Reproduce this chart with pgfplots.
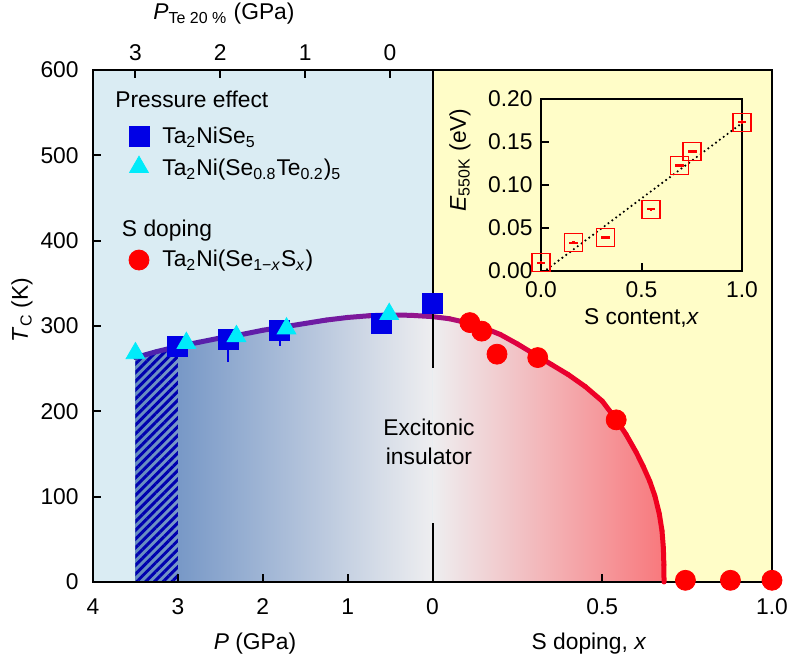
\documentclass[border=0pt]{standalone}
\usepackage{fontspec}
\setmainfont{Liberation Sans}
\usepackage{pgfplots}
\pgfplotsset{compat=1.18}
\usetikzlibrary{patterns.meta}
\newcommand{\fsz}{\fontsize{11.4bp}{14.5bp}\selectfont}
\definecolor{bgblue}{RGB}{218,236,243}
\definecolor{bgyellow}{RGB}{255,253,200}
\definecolor{gL}{RGB}{100,138,192}
\definecolor{gLm}{RGB}{150,175,210}
\definecolor{gM}{RGB}{238,238,240}
\definecolor{gRm}{RGB}{245,195,198}
\definecolor{gR}{RGB}{248,120,124}
\definecolor{hatchc}{RGB}{0,0,175}
\definecolor{sqblue}{RGB}{0,0,230}
\definecolor{tricyan}{RGB}{0,235,250}
\definecolor{cred}{RGB}{255,0,0}
\pgfplotsset{colormap={curvemap}{rgb255(0cm)=(75,35,175) rgb255(2cm)=(105,28,165) rgb255(3.5cm)=(150,20,140) rgb255(4.3cm)=(220,0,70) rgb255(5.3cm)=(238,0,40) rgb255(6.228cm)=(240,0,30)}}
% main x coordinate: pressure side x = -P (GPa); S-doping side x = 4*S
\begin{document}
\begin{tikzpicture}
\begin{axis}[
  at={(0,0)}, anchor=south west,
  scale only axis, width=339.5bp, height=256bp,
  xmin=-4, xmax=4, ymin=0, ymax=600,
  set layers, clip=false,
  axis line style={line width=1bp},
  every tick/.style={black, line width=1bp},
  major tick length=4bp, tick align=inside,
  xtick pos=bottom, ytick pos=left,
  xtick={-4,-3,-2,-1,0,2,4}, xticklabels={4,3,2,1,0,0.5,1.0},
  ytick={0,100,200,300,400,500,600},
  tick label style={font=\fsz},
  xticklabel style={yshift=-5bp},
  yticklabel style={xshift=-3.7bp},
  /pgf/number format/assume math mode=true,
]
% backgrounds
\addplot[on layer=axis background, draw=none, fill=bgblue, forget plot] coordinates {(-4,0) (-4,600) (0,600) (0,0)} -- cycle;
\addplot[on layer=axis background, draw=none, fill=bgyellow, forget plot] coordinates {(0,0) (0,600) (4,600) (4,0)} -- cycle;
% gradient fills under the phase boundary
\addplot[on layer=axis background, draw=none, left color=gL, middle color=gLm, right color=gM, forget plot] coordinates {
(-3.5,263) (-3.25,270) (-3.0,276) (-2.75,281) (-2.5,286) (-2.25,290) (-2.0,295) (-1.75,299) (-1.5,303) (-1.25,307) (-1.0,310) (-0.75,312) (-0.5,313) (-0.25,312.5) (0,311)} \closedcycle;
\addplot[on layer=axis background, draw=none, left color=gM, middle color=gRm, right color=gR, forget plot] coordinates {
(0,311) (0.2,308.5) (0.4,304) (0.6,298) (0.8,290) (1.0,279) (1.2,267) (1.4,255) (1.6,243) (1.8,229) (2.0,212) (2.16,191) (2.28,173) (2.4,152) (2.48,136) (2.56,118) (2.62,101) (2.672,80) (2.704,60) (2.72,40) (2.726,20) (2.728,0)} \closedcycle;
\addplot[on layer=axis background, draw=none, pattern={Lines[angle=45, distance=3.1bp, line width=1.5bp]}, pattern color=hatchc, forget plot] coordinates {(-3.5,263) (-3.25,270) (-3.0,276)} \closedcycle;
% phase boundary
\addplot[mesh, colormap name=curvemap, point meta=x, point meta min=-3.5, point meta max=2.728, line width=2.5bp, line cap=round, line join=round, forget plot] coordinates {
(-3.5,263) (-3.25,270) (-3.0,276) (-2.75,281) (-2.5,286) (-2.25,290) (-2.0,295) (-1.75,299) (-1.5,303) (-1.25,307) (-1.0,310) (-0.75,312) (-0.5,313) (-0.25,312.5) (0,311) (0.2,308.5) (0.4,304) (0.6,298) (0.8,290) (1.0,279) (1.2,267) (1.4,255) (1.6,243) (1.8,229) (2.0,212) (2.16,191) (2.28,173) (2.4,152) (2.48,136) (2.56,118) (2.62,101) (2.672,80) (2.704,60) (2.72,40) (2.726,20) (2.728,0)};
% Ta2NiSe5
\addplot[only marks, mark=square*, mark size=5bp, color=sqblue, forget plot,
  error bars/.cd, y dir=minus, y explicit, error bar style={sqblue, line width=1bp}, error mark options={sqblue, line width=1bp, mark size=4bp}]
  coordinates {(-3.0,276) -= (0,0) (-2.41,284) -= (0,17) (-1.80,295) -= (0,9) (-0.6,303) -= (0,0) (0.0,326) -= (0,0)};
% Ta2Ni(Se0.8Te0.2)5
\addplot[only marks, mark=triangle*, mark size=5.4bp, color=tricyan, forget plot]
  coordinates {(-3.5,268) (-2.9,280) (-2.31,288) (-1.72,297) (-0.51,314)};
% S doping
\addplot[only marks, mark=*, mark size=5bp, color=cred, forget plot]
  coordinates {(0.44,304) (0.58,294) (0.76,267) (1.24,263) (2.164,190) (2.98,2) (3.51,2) (4.0,2)};
% divider
\draw[line width=1bp] (axis cs:0,600) -- (axis cs:0,251);
\draw[line width=1bp] (axis cs:0,69) -- (axis cs:0,0);
% legend symbols
\addplot[only marks, mark=square*, mark size=5bp, color=sqblue, forget plot] coordinates {(-3.458,522.7)};
\addplot[only marks, mark=triangle*, mark size=5.4bp, color=tricyan, forget plot] coordinates {(-3.458,486.3)};
\addplot[only marks, mark=*, mark size=5bp, color=cred, forget plot] coordinates {(-3.458,377.3)};
\end{axis}
% top axis (P for Te 20 %)
\begin{axis}[
  at={(0,0)}, anchor=south west,
  scale only axis, width=339.5bp, height=256bp,
  xmin=-4, xmax=4, ymin=0, ymax=600,
  axis x line*=top, axis y line=none,
  axis line style={line width=1bp},
  every tick/.style={black, line width=1bp},
  major tick length=4bp, tick align=inside,
  xtick={-3.5,-2.5,-1.5,-0.5}, xticklabels={3,2,1,0},
  tick label style={font=\fsz}, xticklabel style={yshift=1.2bp},
]
\end{axis}
% inset
\begin{axis}[
  at={(224bp,155.5bp)}, anchor=south west,
  scale only axis, width=100.5bp, height=86bp,
  xmin=0, xmax=1, ymin=0, ymax=0.2,
  clip=false,
  axis line style={line width=1bp},
  every tick/.style={black, line width=1bp},
  major tick length=4bp, tick align=inside,
  xtick pos=bottom, ytick pos=left,
  xtick={0,0.5,1}, ytick={0,0.05,0.1,0.15,0.2},
  scaled y ticks=false,
  tick label style={font=\fsz},
  /pgf/number format/assume math mode=true,
  xticklabel style={yshift=-1.7bp, /pgf/number format/fixed, /pgf/number format/fixed zerofill, /pgf/number format/precision=1},
  yticklabel style={xshift=-0.7bp, /pgf/number format/fixed, /pgf/number format/fixed zerofill, /pgf/number format/precision=2},
]
\addplot[black, line width=1.2bp, line cap=round, dash pattern=on 0pt off 2.4bp] coordinates {(0.03,0.002) (1.0,0.172)};
\addplot[only marks, mark=square, mark size=4.5bp, mark options={cred, line width=0.7bp},
  error bars/.cd, x dir=both, x fixed=0.022, y dir=both, y fixed=0.002, error mark=none, error bar style={cred, line width=1.1bp}]
  coordinates {(0.0,0.0097) (0.162,0.033) (0.32,0.039) (0.547,0.0718) (0.688,0.1227) (0.752,0.139) (1.0,0.173)};
\node[font=\fsz, rotate=90] at (rel axis cs:-0.403,0.645) {\textit{E}\textsubscript{550K} (eV)};
\node[font=\fsz] at (rel axis cs:0.5,-0.273) {S content,\textit{x}};
\end{axis}
% labels and texts
\node[font=\fsz] at (81bp,-31bp) {\textit{P} (GPa)};
\node[font=\fsz] at (248bp,-31bp) {S doping, \textit{x}};
\node[font=\fsz, anchor=base] at (65.5bp,281bp) {\textit{P}\textsubscript{Te 20 \%} (GPa)};
\node[font=\fsz, rotate=90] at (-35.5bp,136bp) {\textit{T}\textsubscript{C} (K)};
\node[font=\fsz, align=center] at (168bp,70bp) {Excitonic\\insulator};
% legend texts
\node[font=\fsz, anchor=base west, inner sep=0pt] at (11bp,237bp) {Pressure effect};
\node[font=\fsz, anchor=base west, inner sep=0pt] at (34.5bp,219bp) {Ta\textsubscript{2}NiSe\textsubscript{5}};
\node[font=\fsz, anchor=base west, inner sep=0pt] at (34.5bp,203bp) {Ta\textsubscript{2}Ni(Se\textsubscript{0.8}Te\textsubscript{0.2})\textsubscript{5}};
\node[font=\fsz, anchor=base west, inner sep=0pt] at (14.3bp,172.5bp) {S doping};
\node[font=\fsz, anchor=base west, inner sep=0pt] at (34.5bp,157.5bp) {Ta\textsubscript{2}Ni(Se\textsubscript{1−\textit{x}}S\textsubscript{\textit{x}})};
\pgfresetboundingbox
\path[use as bounding box] (-46.5bp,-37.5bp) rectangle (347.5bp,291bp);
\end{tikzpicture}
\end{document}
